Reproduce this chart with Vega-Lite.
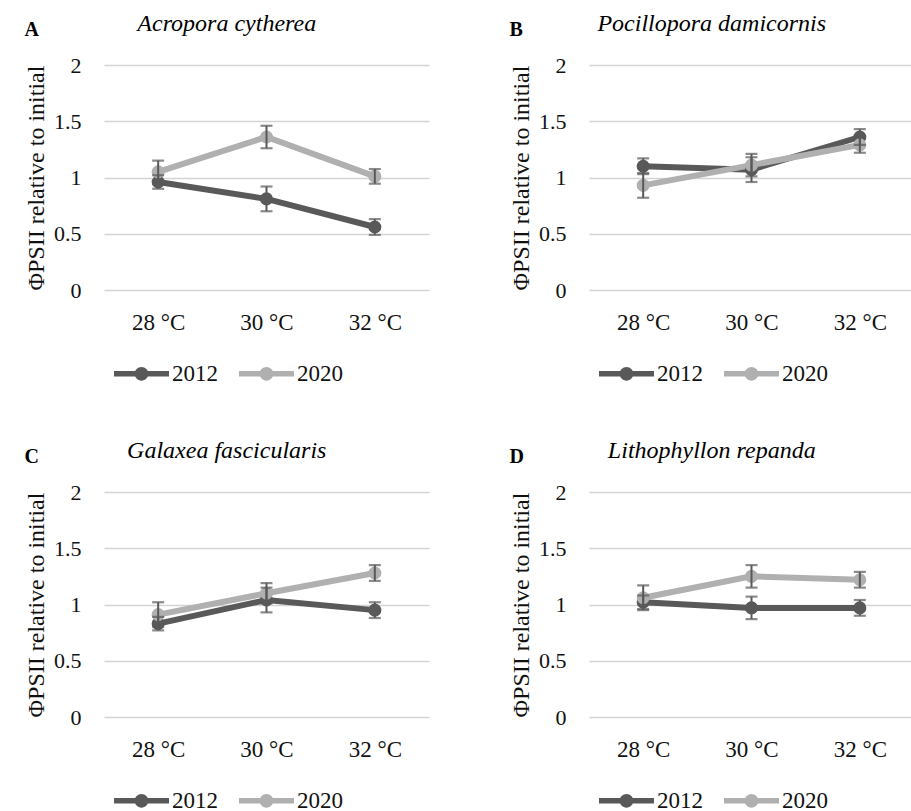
{
  "$schema": "https://vega.github.io/schema/vega-lite/v6.json",
  "background": "white",
  "padding": {"left": 24, "top": 12, "right": 0, "bottom": 0},
  "datasets": {
    "d": [
      {"panel": "A", "temp": "28 °C", "year": "2012", "value": 0.96, "err": 0.06},
      {"panel": "A", "temp": "30 °C", "year": "2012", "value": 0.81, "err": 0.11},
      {"panel": "A", "temp": "32 °C", "year": "2012", "value": 0.56, "err": 0.07},
      {"panel": "A", "temp": "28 °C", "year": "2020", "value": 1.05, "err": 0.1},
      {"panel": "A", "temp": "30 °C", "year": "2020", "value": 1.36, "err": 0.1},
      {"panel": "A", "temp": "32 °C", "year": "2020", "value": 1.01, "err": 0.065},
      {"panel": "B", "temp": "28 °C", "year": "2012", "value": 1.10, "err": 0.07},
      {"panel": "B", "temp": "30 °C", "year": "2012", "value": 1.07, "err": 0.11},
      {"panel": "B", "temp": "32 °C", "year": "2012", "value": 1.36, "err": 0.07},
      {"panel": "B", "temp": "28 °C", "year": "2020", "value": 0.93, "err": 0.11},
      {"panel": "B", "temp": "30 °C", "year": "2020", "value": 1.11, "err": 0.1},
      {"panel": "B", "temp": "32 °C", "year": "2020", "value": 1.29, "err": 0.07},
      {"panel": "C", "temp": "28 °C", "year": "2012", "value": 0.83, "err": 0.06},
      {"panel": "C", "temp": "30 °C", "year": "2012", "value": 1.04, "err": 0.11},
      {"panel": "C", "temp": "32 °C", "year": "2012", "value": 0.95, "err": 0.07},
      {"panel": "C", "temp": "28 °C", "year": "2020", "value": 0.91, "err": 0.11},
      {"panel": "C", "temp": "30 °C", "year": "2020", "value": 1.10, "err": 0.09},
      {"panel": "C", "temp": "32 °C", "year": "2020", "value": 1.28, "err": 0.07},
      {"panel": "D", "temp": "28 °C", "year": "2012", "value": 1.02, "err": 0.06},
      {"panel": "D", "temp": "30 °C", "year": "2012", "value": 0.97, "err": 0.1},
      {"panel": "D", "temp": "32 °C", "year": "2012", "value": 0.97, "err": 0.07},
      {"panel": "D", "temp": "28 °C", "year": "2020", "value": 1.06, "err": 0.11},
      {"panel": "D", "temp": "30 °C", "year": "2020", "value": 1.25, "err": 0.1},
      {"panel": "D", "temp": "32 °C", "year": "2020", "value": 1.22, "err": 0.07}
    ]
  },
  "resolve": {"legend": {"color": "independent"}},
  "spacing": 43,
  "vconcat": [
    {
      "hconcat": [
        {
          "title": {"text": "A", "fontWeight": "bold", "fontStyle": "normal", "fontSize": 20, "anchor": "start", "offset": -28},
          "resolve": {"legend": {"color": "independent"}},
          "vconcat": [
            {
              "title": {"text": "Acropora cytherea", "fontStyle": "italic", "fontWeight": "normal", "fontSize": 24, "anchor": "middle", "frame": "bounds", "offset": 18},
              "width": 325, "height": 225,
              "data": {"name": "d"},
              "transform": [{"filter": "datum.panel == 'A'"}],
              "encoding": {
                "x": {"field": "temp", "type": "nominal", "scale": {"type": "point", "padding": 0.5}},
                "y": {"field": "value", "type": "quantitative", "scale": {"domain": [0, 2]}, "axis": {"title": "ΦPSII relative  to initial", "values": [0, 0.5, 1, 1.5, 2], "format": "~g"}}
              },
              "layer": [
                {"mark": {"type": "line", "strokeWidth": 6}, "encoding": {"color": {"field": "year", "type": "nominal", "scale": {"domain": ["2012", "2020"], "range": ["#595959", "#b0b0b0"]}}}},
                {"mark": {"type": "point", "filled": true, "size": 170, "opacity": 1}, "encoding": {"color": {"field": "year", "type": "nominal", "scale": {"domain": ["2012", "2020"], "range": ["#595959", "#b0b0b0"]}}}},
                {"mark": {"type": "errorbar", "color": "#595959", "ticks": {"size": 12, "thickness": 2.2}, "rule": {"strokeWidth": 2}}, "encoding": {"yError": {"field": "err"}, "detail": {"field": "year"}}}
              ]
            }
          ]
        },
        {
          "title": {"text": "B", "fontWeight": "bold", "fontStyle": "normal", "fontSize": 20, "anchor": "start", "offset": -28},
          "resolve": {"legend": {"color": "independent"}},
          "vconcat": [
            {
              "title": {"text": "Pocillopora damicornis", "fontStyle": "italic", "fontWeight": "normal", "fontSize": 24, "anchor": "middle", "frame": "bounds", "offset": 18},
              "width": 325, "height": 225,
              "data": {"name": "d"},
              "transform": [{"filter": "datum.panel == 'B'"}],
              "encoding": {
                "x": {"field": "temp", "type": "nominal", "scale": {"type": "point", "padding": 0.5}},
                "y": {"field": "value", "type": "quantitative", "scale": {"domain": [0, 2]}, "axis": {"title": "ΦPSII relative  to initial", "values": [0, 0.5, 1, 1.5, 2], "format": "~g"}}
              },
              "layer": [
                {"mark": {"type": "line", "strokeWidth": 6}, "encoding": {"color": {"field": "year", "type": "nominal", "scale": {"domain": ["2012", "2020"], "range": ["#595959", "#b0b0b0"]}}}},
                {"mark": {"type": "point", "filled": true, "size": 170, "opacity": 1}, "encoding": {"color": {"field": "year", "type": "nominal", "scale": {"domain": ["2012", "2020"], "range": ["#595959", "#b0b0b0"]}}}},
                {"mark": {"type": "errorbar", "color": "#595959", "ticks": {"size": 12, "thickness": 2.2}, "rule": {"strokeWidth": 2}}, "encoding": {"yError": {"field": "err"}, "detail": {"field": "year"}}}
              ]
            }
          ]
        }
      ],
      "spacing": 80,
      "resolve": {"legend": {"color": "independent"}}
    },
    {
      "hconcat": [
        {
          "title": {"text": "C", "fontWeight": "bold", "fontStyle": "normal", "fontSize": 20, "anchor": "start", "offset": -28},
          "resolve": {"legend": {"color": "independent"}},
          "vconcat": [
            {
              "title": {"text": "Galaxea fascicularis", "fontStyle": "italic", "fontWeight": "normal", "fontSize": 24, "anchor": "middle", "frame": "bounds", "offset": 18},
              "width": 325, "height": 225,
              "data": {"name": "d"},
              "transform": [{"filter": "datum.panel == 'C'"}],
              "encoding": {
                "x": {"field": "temp", "type": "nominal", "scale": {"type": "point", "padding": 0.5}},
                "y": {"field": "value", "type": "quantitative", "scale": {"domain": [0, 2]}, "axis": {"title": "ΦPSII relative  to initial", "values": [0, 0.5, 1, 1.5, 2], "format": "~g"}}
              },
              "layer": [
                {"mark": {"type": "line", "strokeWidth": 6}, "encoding": {"color": {"field": "year", "type": "nominal", "scale": {"domain": ["2012", "2020"], "range": ["#595959", "#b0b0b0"]}}}},
                {"mark": {"type": "point", "filled": true, "size": 170, "opacity": 1}, "encoding": {"color": {"field": "year", "type": "nominal", "scale": {"domain": ["2012", "2020"], "range": ["#595959", "#b0b0b0"]}}}},
                {"mark": {"type": "errorbar", "color": "#595959", "ticks": {"size": 12, "thickness": 2.2}, "rule": {"strokeWidth": 2}}, "encoding": {"yError": {"field": "err"}, "detail": {"field": "year"}}}
              ]
            }
          ]
        },
        {
          "title": {"text": "D", "fontWeight": "bold", "fontStyle": "normal", "fontSize": 20, "anchor": "start", "offset": -28},
          "resolve": {"legend": {"color": "independent"}},
          "vconcat": [
            {
              "title": {"text": "Lithophyllon repanda", "fontStyle": "italic", "fontWeight": "normal", "fontSize": 24, "anchor": "middle", "frame": "bounds", "offset": 18},
              "width": 325, "height": 225,
              "data": {"name": "d"},
              "transform": [{"filter": "datum.panel == 'D'"}],
              "encoding": {
                "x": {"field": "temp", "type": "nominal", "scale": {"type": "point", "padding": 0.5}},
                "y": {"field": "value", "type": "quantitative", "scale": {"domain": [0, 2]}, "axis": {"title": "ΦPSII relative  to initial", "values": [0, 0.5, 1, 1.5, 2], "format": "~g"}}
              },
              "layer": [
                {"mark": {"type": "line", "strokeWidth": 6}, "encoding": {"color": {"field": "year", "type": "nominal", "scale": {"domain": ["2012", "2020"], "range": ["#595959", "#b0b0b0"]}}}},
                {"mark": {"type": "point", "filled": true, "size": 170, "opacity": 1}, "encoding": {"color": {"field": "year", "type": "nominal", "scale": {"domain": ["2012", "2020"], "range": ["#595959", "#b0b0b0"]}}}},
                {"mark": {"type": "errorbar", "color": "#595959", "ticks": {"size": 12, "thickness": 2.2}, "rule": {"strokeWidth": 2}}, "encoding": {"yError": {"field": "err"}, "detail": {"field": "year"}}}
              ]
            }
          ]
        }
      ],
      "spacing": 80,
      "resolve": {"legend": {"color": "independent"}}
    }
  ],
  "config": {
    "view": {"stroke": null},
    "font": "Liberation Serif, Times New Roman, serif",
    "title": {"font": "Liberation Serif, Times New Roman, serif", "color": "#000"},
    "axis": {"labelFont": "Liberation Serif, Times New Roman, serif", "labelFontSize": 22, "labelColor": "#111", "titleFont": "Liberation Serif, Times New Roman, serif", "titleFontSize": 24, "titleFontWeight": "normal", "titleColor": "#111", "domain": false, "ticks": false},
    "axisX": {"title": null, "labelAngle": 0, "labelPadding": 21, "labelFontSize": 23, "grid": false},
    "axisY": {"labelPadding": 23, "titlePadding": 5, "gridColor": "#d4d4d4", "gridWidth": 1.3},
    "legend": {
      "orient": "bottom", "direction": "horizontal", "title": null,
      "symbolType": "M-1,-0.1H1V0.1H-1Z M-0.25,0A0.25,0.25 0 1,1 0.25,0A0.25,0.25 0 1,1 -0.25,0Z",
      "symbolSize": 3025, "symbolStrokeWidth": 0, "symbolOpacity": 1,
      "labelFont": "Liberation Serif, Times New Roman, serif", "labelFontSize": 23, "labelColor": "#111", "labelOffset": 3,
      "columnPadding": 21, "offset": 2, "padding": 10,
      "encode": {"symbols": {"update": {"fill": {"signal": "datum.value == '2012' ? '#595959' : '#b0b0b0'"}, "size": {"value": 3025}, "opacity": {"value": 1}, "strokeWidth": {"value": 0}}}}
    }
  }
}
